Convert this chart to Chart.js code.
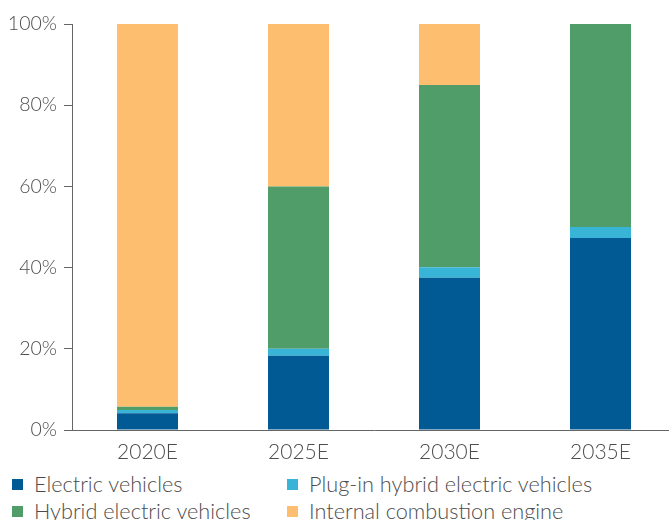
<!DOCTYPE html>
<html>
<head>
<meta charset="utf-8">
<script src="https://cdn.jsdelivr.net/npm/chart.js@4.4.1/dist/chart.umd.min.js"></script>
<style>
	body { margin: 0; width: 669px; height: 520px; overflow: hidden; background: #fff; font-family: Lato, sans-serif; }
	#wrap { position: relative; width: 676px; height: 462px; }
	#legend { position: absolute; left: 12px; top: 473px; display: grid; grid-template-columns: 275px 360px; row-gap: 4px; }
	.item { display: flex; align-items: center; font-size: 21.7px; font-weight: 300; color: #4d4d4d; line-height: 23px; white-space: nowrap; }
	.box { width: 11px; height: 11px; margin-right: 11px; }
</style>
</head>
<body>
<div id="wrap"><canvas id="chart"></canvas></div>
<div id="legend"></div>
<script>
// categories
const years = ["2020E", "2025E", "2030E", "2035E"];

// series (%)
const electric = [4.1, 18.3, 37.5, 47.3];
const plugIn = [0.8, 1.7, 2.6, 2.7];
const hybrid = [0.8, 40.0, 44.9, 50.0];
const combustion = [94.3, 40.0, 15.0, 0];

const seriesNames = ["Electric vehicles", "Plug-in hybrid electric vehicles", "Hybrid electric vehicles", "Internal combustion engine"];
const seriesColors = ["#025a95", "#38b4d6", "#519d6a", "#fdbf6f"];

// y ticks
const yTicks = [0, 20, 40, 60, 80, 100];

const allSeries = [electric, plugIn, hybrid, combustion];

function drawChart() {
	const ctx = document.getElementById("chart").getContext("2d");
	const chart = new Chart(ctx, {
		type: "bar",
		data: {
			labels: years,
			datasets: allSeries.map((values, i) => ({
				label: seriesNames[i],
				data: values,
				backgroundColor: seriesColors[i],
				borderWidth: 0,
				barPercentage: 0.404,
				categoryPercentage: 1,
			})),
		},
		options: {
			responsive: false,
			animation: false,
			layout: { padding: { top: 24, right: 0, left: 0, bottom: 0 } },
			plugins: { legend: { display: false }, tooltip: { enabled: false } },
			scales: {
				x: {
					stacked: true,
					grid: { display: false },
					border: { display: true, color: "#666", width: 1 },
					ticks: { color: "#4d4d4d", font: { family: "Lato", size: 21, weight: 300 }, padding: 2 },
					afterFit: (scale) => { scale.height = 32; },
				},
				y: {
					stacked: true,
					min: 0,
					max: 100,
					afterBuildTicks: (scale) => { scale.ticks = yTicks.map((v) => ({ value: v })); },
					grid: { drawOnChartArea: false, drawTicks: true, tickLength: 8, color: "#666" },
					border: { display: true, color: "#666", width: 1 },
					ticks: { color: "#4d4d4d", font: { family: "Lato", size: 19.5, weight: 300 }, padding: 7, callback: (v) => v + "%" },
					afterFit: (scale) => { scale.width = 72; },
				},
			},
		},
	});

	// legend
	const legend = document.getElementById("legend");
	chart.data.datasets.forEach((ds) => {
		legend.innerHTML +=
			'<div class="item"><span class="box" style="background:' + ds.backgroundColor + '"></span>' + ds.label + "</div>";
	});
}

const cv = document.getElementById("chart");
cv.width = 676;
cv.height = 462;
drawChart();
</script>
</body>
</html>
